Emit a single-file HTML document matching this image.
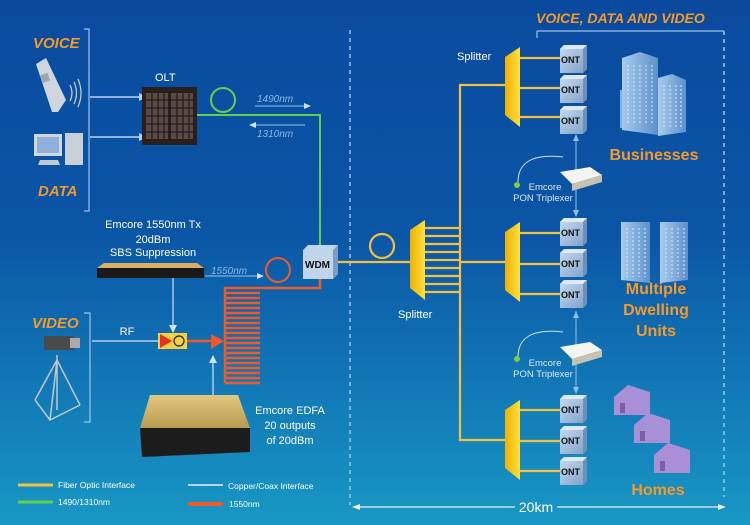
<!DOCTYPE html>
<html><head><meta charset="utf-8"><style>
html,body{margin:0;padding:0;width:750px;height:525px;overflow:hidden}
svg{display:block}
text{font-family:"Liberation Sans",sans-serif}
</style></head><body>
<svg width="750" height="525" viewBox="0 0 750 525" xmlns="http://www.w3.org/2000/svg">
<defs>
<linearGradient id="bg" x1="0" y1="0" x2="0" y2="1">
<stop offset="0" stop-color="#0a4a9e"/><stop offset="0.45" stop-color="#0b56a6"/><stop offset="1" stop-color="#1898c4"/>
</linearGradient>
<linearGradient id="spl" x1="0" y1="0" x2="1" y2="0"><stop offset="0" stop-color="#f0b000"/><stop offset="1" stop-color="#ffe040"/></linearGradient>
<linearGradient id="ont" x1="0" y1="0" x2="1" y2="1"><stop offset="0" stop-color="#c8dcf0"/><stop offset="1" stop-color="#7e9fc8"/></linearGradient>
<linearGradient id="bld" x1="0" y1="0" x2="1" y2="0"><stop offset="0" stop-color="#a8ccec"/><stop offset="1" stop-color="#5d90cc"/></linearGradient>
<linearGradient id="edfa" x1="0" y1="0" x2="0" y2="1"><stop offset="0" stop-color="#e0c880"/><stop offset="1" stop-color="#b89a50"/></linearGradient>
<g id="ontbox"><path d="M0 4 L4 0 L27 0 L27 24 L23 28 L0 28Z" fill="url(#ont)"/><path d="M0 4 L4 0 L27 0 L23 4Z" fill="#dde9f6"/><path d="M23 4 L27 0 L27 24 L23 28Z" fill="#6f8fba"/></g>
</defs>
<rect width="750" height="525" fill="url(#bg)"/>

<!-- dashed lines -->
<g stroke="#9cc4ea" stroke-width="1.5" stroke-dasharray="4,4" fill="none">
<line x1="350" y1="30" x2="350" y2="505"/>
<line x1="724" y1="31" x2="724" y2="497"/>
</g>
<line x1="537" y1="31" x2="724" y2="31" stroke="#9cc4ea" stroke-width="1.2"/>
<line x1="537" y1="31" x2="537" y2="38" stroke="#9cc4ea" stroke-width="1.2"/>

<!-- titles -->
<g font-weight="bold" font-style="italic" fill="#f59a2a">
<text x="33" y="48" font-size="15">VOICE</text>
<text x="38" y="196" font-size="15">DATA</text>
<text x="32" y="328" font-size="15">VIDEO</text>
<text x="536" y="23" font-size="14">VOICE, DATA AND VIDEO</text>
</g>
<!-- brackets -->
<g stroke="#9cc4ea" stroke-width="1.2" fill="none">
<path d="M84 29 H89 V211 H84"/>
<path d="M84 313 H90 V422 H84"/>
</g>
<!-- phone -->
<g>
<path d="M36 64 L46 58 L66 100 L58 112 L52 112Z" fill="#cfd6de"/>
<rect x="41" y="74" width="8" height="8" fill="#9aa8b4" transform="rotate(-22 45 78)"/>
<path d="M70 85 q4 8 0 16 M74 82 q5 11 0 22 M78 79 q6 14 0 28" stroke="#c8d4e0" stroke-width="1.2" fill="none"/>
</g>
<!-- computer -->
<rect x="34" y="134" width="28" height="22" fill="#d0d8e0"/><rect x="37" y="137" width="22" height="16" fill="#8fb0d8"/>
<path d="M40 160 H58 L60 165 H38Z" fill="#c0c8d0"/>
<rect x="65" y="133" width="18" height="32" fill="#c8d0d8"/>
<!-- arrows voice/data -->
<g stroke="#b8d4f0" stroke-width="1.5"><line x1="90" y1="97" x2="140" y2="97"/><line x1="90" y1="137" x2="140" y2="137"/></g>
<g fill="#b8d4f0"><path d="M147 97 L139 93 L139 101Z"/><path d="M147 137 L139 133 L139 141Z"/></g>
<!-- OLT -->
<text x="155" y="81" font-size="11" fill="#fff">OLT</text>
<rect x="142" y="87" width="55" height="58" fill="#2a1f1c"/>
<g fill="#5a4a44">
<rect x="146" y="93" width="22" height="46"/><rect x="171" y="93" width="22" height="46"/>
</g>
<g stroke="#1a1210" stroke-width="1"><path d="M146 100 H193 M146 108 H193 M146 116 H193 M146 124 H193 M146 132 H193 M152 93 V139 M158 93 V139 M164 93 V139 M177 93 V139 M183 93 V139 M189 93 V139"/></g>
<!-- green -->
<circle cx="223" cy="100" r="12" fill="none" stroke="#62d04a" stroke-width="2"/>
<path d="M197 115 H320 V247" fill="none" stroke="#62d04a" stroke-width="2"/>
<g font-size="10" font-style="italic" fill="#8ab8e8">
<text x="257" y="102">1490nm</text><text x="257" y="137">1310nm</text>
<text x="211" y="274">1550nm</text>
</g>
<g stroke="#9cc4ea" stroke-width="1"><line x1="255" y1="106" x2="305" y2="106"/><line x1="253" y1="125" x2="305" y2="125"/><line x1="205" y1="276" x2="258" y2="276"/></g>
<g fill="#cfe2f6"><path d="M311 106 L304 103 L304 109Z"/><path d="M249 125 L256 122 L256 128Z"/><path d="M264 276 L257 273 L257 279Z"/></g>
<!-- Tx text -->
<g font-size="11" fill="#fff" text-anchor="middle">
<text x="153" y="228">Emcore 1550nm Tx</text><text x="153" y="243">20dBm</text><text x="153" y="256">SBS Suppression</text>
<text x="290" y="414">Emcore EDFA</text><text x="290" y="429">20 outputs</text><text x="290" y="444">of 20dBm</text>
<text x="127" y="335">RF</text>
</g>
<!-- Tx device -->
<path d="M104 263 H197 L204 268 H97Z" fill="#d8b060"/>
<rect x="97" y="268" width="107" height="10" fill="#1a1a1a"/>
<!-- orange -->
<circle cx="278" cy="270" r="12" fill="none" stroke="#f05a28" stroke-width="2"/>
<path d="M320 278 V288 H225 V383" fill="none" stroke="#f05a28" stroke-width="2.5"/>
<g stroke="#f05a28" stroke-width="2.5">
<path d="M225 293 H260 M225 298 H260 M225 303 H260 M225 308 H260 M225 313 H260 M225 318 H260 M225 323 H260 M225 328 H260 M225 333 H260 M225 338 H260 M225 343 H260 M225 348 H260 M225 353 H260 M225 358 H260 M225 363 H260 M225 368 H260 M225 373 H260 M225 378 H260 M225 383 H260"/>
<line x1="187" y1="341" x2="212" y2="341"/>
</g>
<path d="M211 334 L224 341 L211 349Z" fill="#f05a28"/>
<!-- white lines to modulator -->
<g stroke="#cfe2f6" stroke-width="1.2"><line x1="173" y1="278" x2="173" y2="327"/><line x1="213" y1="395" x2="213" y2="360"/><line x1="92" y1="341" x2="158" y2="341"/></g>
<g fill="#cfe2f6"><path d="M173 333 L169 325 L177 325Z"/><path d="M213 355 L209 363 L217 363Z"/></g>
<rect x="158" y="333" width="29" height="16" fill="#f5d040"/>
<path d="M160 334 L172 341 L160 348Z" fill="#e53020"/>
<circle cx="179" cy="341" r="5" fill="none" stroke="#222" stroke-width="1.2"/>
<!-- camera -->
<rect x="44" y="336" width="30" height="14" fill="#4a4a4a"/><rect x="70" y="338" width="10" height="10" fill="#aaa"/>
<g stroke="#c0c8d0" stroke-width="1.5" fill="none"><path d="M57 355 V410 M57 360 L35 400 M57 360 L80 405 M57 360 L50 420 M35 400 L50 420 L80 405"/></g>
<!-- EDFA -->
<path d="M150 395 H238 L250 428 H140Z" fill="url(#edfa)"/>
<path d="M140 428 H250 V452 L142 457Z" fill="#1c1c1c"/>
<!-- WDM -->
<path d="M303 250 L308 245 H338 V274 L333 279 H303Z" fill="#c0d4ea"/>
<path d="M333 250 L338 245 V274 L333 279Z" fill="#7a9cc6"/>
<text x="305" y="268" font-size="10" font-weight="bold" fill="#111">WDM</text>
<!-- yellow fiber -->
<g stroke="#f5c040" stroke-width="2.2" fill="none">
<circle cx="382" cy="246" r="12"/>
<line x1="338" y1="262" x2="414" y2="262"/>
<path d="M425 228 H460 M425 236 H460 M425 244 H460 M425 252 H460 M425 260 H460 M425 268 H460 M425 276 H460 M425 284 H460 M425 292 H460"/>
<path d="M505 85 H460 V440 H510"/>
<line x1="460" y1="262" x2="510" y2="262"/>
<path d="M520 58 H560 M520 88 H560 M520 117 H560"/>
<path d="M520 233 H560 M520 264 H560 M520 294 H560"/>
<path d="M520 410 H560 M520 441 H560 M520 471 H560"/>
</g>
<!-- splitters -->
<path d="M410 230 L425 220 V300 L410 288Z" fill="url(#spl)"/>
<path d="M505 57 L520 47 V127 L505 115Z" fill="url(#spl)"/>
<path d="M505 232 L520 222 V302 L505 290Z" fill="url(#spl)"/>
<path d="M505 410 L520 400 V480 L505 468Z" fill="url(#spl)"/>
<g font-size="11" fill="#fff"><text x="457" y="60">Splitter</text><text x="398" y="318">Splitter</text></g>
<!-- ONTs -->
<g>
<use href="#ontbox" x="560" y="45"/><use href="#ontbox" x="560" y="75"/><use href="#ontbox" x="560" y="106"/>
<use href="#ontbox" x="560" y="218"/><use href="#ontbox" x="560" y="249"/><use href="#ontbox" x="560" y="280"/>
<use href="#ontbox" x="560" y="395"/><use href="#ontbox" x="560" y="426"/><use href="#ontbox" x="560" y="457"/>
</g>
<g font-size="9" font-weight="bold" fill="#111">
<text x="561" y="63">ONT</text><text x="561" y="93">ONT</text><text x="561" y="124">ONT</text>
<text x="561" y="236">ONT</text><text x="561" y="267">ONT</text><text x="561" y="298">ONT</text>
<text x="561" y="413">ONT</text><text x="561" y="444">ONT</text><text x="561" y="475">ONT</text>
</g>
<!-- triplexer links -->
<g stroke="#8ec0ec" stroke-width="1"><line x1="576" y1="138" x2="576" y2="213"/><line x1="576" y1="311" x2="576" y2="390"/></g>
<g fill="#8ec0ec"><path d="M576 134 L573 141 H579Z"/><path d="M576 217 L573 210 H579Z"/><path d="M576 311 L573 318 H579Z"/><path d="M576 394 L573 387 H579Z"/></g>
<g>
<path d="M560 172 L590 167 L602 175 L572 184Z" fill="#f4f4f0"/><path d="M572 184 L602 175 V182 L572 191Z" fill="#c8c0b0"/>
<path d="M518 182 q0 -30 45 -25" stroke="#cfe2f6" fill="none"/><circle cx="517" cy="185" r="3" fill="#7cd040"/>
<path d="M560 347 L590 342 L602 350 L572 359Z" fill="#f4f4f0"/><path d="M572 359 L602 350 V357 L572 366Z" fill="#c8c0b0"/>
<path d="M518 357 q0 -30 45 -25" stroke="#cfe2f6" fill="none"/><circle cx="517" cy="359" r="3" fill="#7cd040"/>
</g>
<g font-size="9.5" fill="#dbe9f8" text-anchor="middle">
<text x="545" y="190">Emcore</text><text x="543" y="201">PON Triplexer</text>
<text x="545" y="366">Emcore</text><text x="543" y="377">PON Triplexer</text>
</g>
<!-- buildings -->
<g fill="url(#bld)">
<path d="M622 58 L640 52 L658 58 V135 L622 130Z"/><path d="M658 78 L672 74 L686 80 V132 L658 136Z"/>
<path d="M620 90 H658 V132 L620 128Z" opacity="0.8"/>
<path d="M621 222 H650 V283 L621 280Z"/><path d="M660 222 H688 V280 L660 283Z"/>
</g>
<g stroke="#dbeaf8" stroke-width="1" stroke-dasharray="2,2"><path d="M628 65 V125 M634 65 V125 M640 65 V125 M646 65 V125 M652 65 V125 M664 85 V128 M670 85 V128 M676 85 V128 M681 85 V128 M627 228 V277 M633 228 V277 M639 228 V277 M645 228 V277 M666 228 V277 M672 228 V277 M678 228 V277 M684 228 V277"/></g>
<!-- houses -->
<g fill="#a98fd6">
<path d="M614 397 L628 385 L650 392 V415 L614 415Z"/><path d="M634 425 L648 413 L670 420 V443 L634 443Z"/><path d="M654 455 L668 443 L690 450 V473 L654 473Z"/>
</g>
<g fill="#7a5ea8"><rect x="620" y="403" width="5" height="10"/><rect x="640" y="431" width="5" height="10"/><rect x="660" y="461" width="5" height="10"/></g>
<!-- labels -->
<g font-weight="bold" fill="#f59a2a" font-size="16" text-anchor="middle" font-family="'Liberation Sans Narrow','Liberation Sans',sans-serif">
<text x="654" y="160">Businesses</text>
<text x="656" y="294">Multiple</text><text x="656" y="315">Dwelling</text><text x="656" y="336">Units</text>
<text x="658" y="495">Homes</text>
</g>
<!-- 20km -->
<g stroke="#e8f0f8" stroke-width="1.2"><line x1="358" y1="507" x2="515" y2="507"/><line x1="557" y1="507" x2="718" y2="507"/></g>
<g fill="#e8f0f8"><path d="M352 507 L360 504 V510Z"/><path d="M726 507 L718 504 V510Z"/></g>
<text x="536" y="512" font-size="14" fill="#fff" text-anchor="middle">20km</text>
<!-- legend -->
<g stroke-width="3"><line x1="18" y1="485" x2="53" y2="485" stroke="#f5c040"/><line x1="18" y1="502" x2="53" y2="502" stroke="#62d04a"/><line x1="188" y1="485" x2="223" y2="485" stroke="#b8d4f0" stroke-width="2"/><line x1="188" y1="504" x2="223" y2="504" stroke="#f05a28" stroke-width="4"/></g>
<g font-size="8.5" fill="#fff"><text x="58" y="488">Fiber Optic Interface</text><text x="58" y="505">1490/1310nm</text><text x="228" y="489">Copper/Coax Interface</text><text x="229" y="507">1550nm</text></g>
</svg>
</body></html>
